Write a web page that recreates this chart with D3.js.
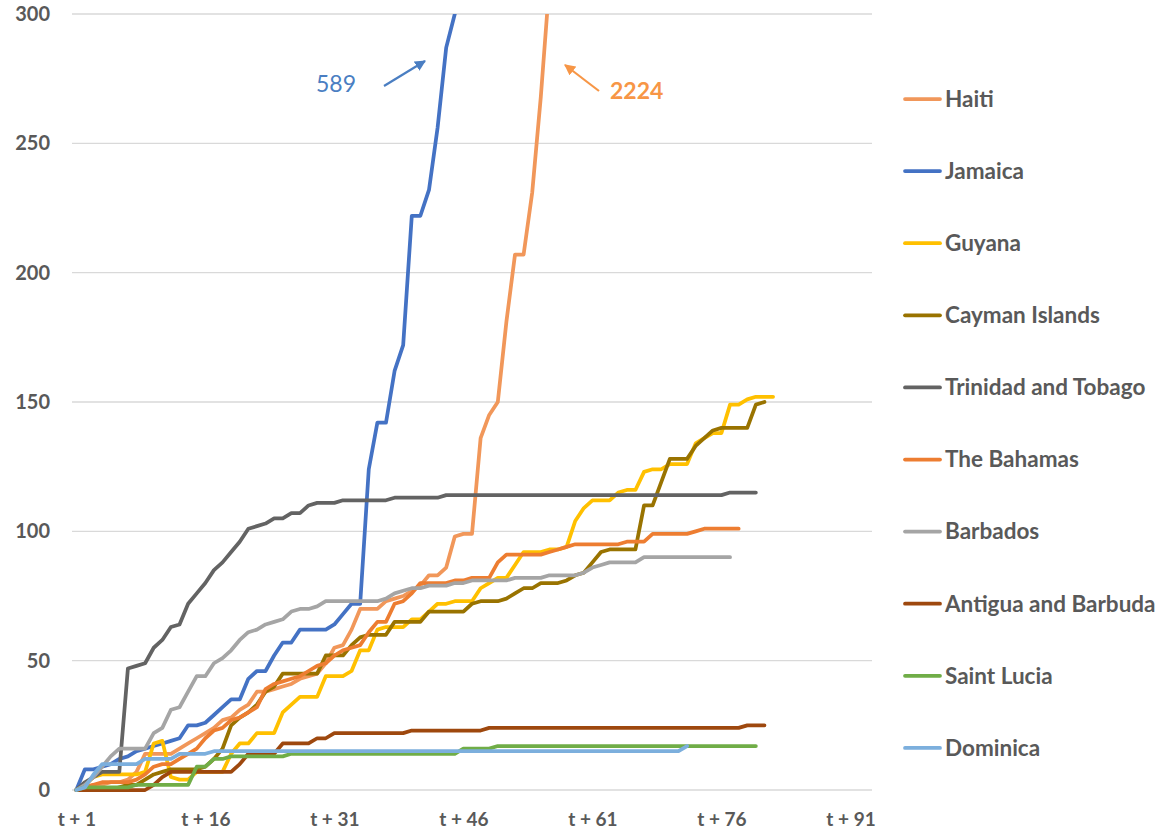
<!DOCTYPE html>
<html>
<head>
<meta charset="utf-8">
<script src="https://cdn.jsdelivr.net/npm/d3@7"></script>
<style>
  html, body { margin: 0; padding: 0; background: #ffffff; }
  svg { display: block; }
  text { font-family: Lato, "Open Sans", "DejaVu Sans", sans-serif; }
</style>
</head>
<body>
<svg id="chart" width="1161" height="833"></svg>
<script>
// ---------------- DATA ----------------
const countries = ["Haiti", "Jamaica", "Guyana", "Cayman Islands", "Trinidad and Tobago",
  "The Bahamas", "Barbados", "Antigua and Barbuda", "Saint Lucia", "Dominica"];

const haiti = [0,1,2,2,3,3,4,7,14,14,14,14,16,18,20,22,24,27,28,31,33,38,38,39,40,41,43,44,45,49,
  55,56,62,70,70,70,73,74,75,77,79,83,83,86,98,99,99,136,145,150,181,207,207,231,268,312];
const jamaica = [0,8,8,9,10,12,13,15,16,17,18,19,20,25,25,26,29,32,35,35,43,46,46,52,57,57,62,62,62,62,
  64,68,72,72,124,142,142,162,172,222,222,232,256,287,300,335];
const guyana = [0,2,5,6,6,6,6,6,7,18,19,5,4,4,7,7,7,7,14,18,18,22,22,22,30,33,36,36,36,44,
  44,44,46,54,54,62,63,63,63,66,66,69,72,72,73,73,73,78,80,82,82,87,92,92,92,93,93,94,104,109,
  112,112,112,115,116,116,123,124,124,126,126,126,134,136,138,138,149,149,151,152,152,152];
const cayman = [0,0,0,0,0,1,2,2,4,6,7,8,8,8,8,9,12,16,25,28,30,33,38,40,45,45,45,45,45,52,
  52,52,56,59,60,60,60,65,65,65,65,69,69,69,69,69,72,73,73,73,74,76,78,78,80,80,80,81,83,84,
  88,92,93,93,93,93,110,110,119,128,128,128,133,136,139,140,140,140,140,149,150];
const trinidad = [0,3,5,7,7,7,47,48,49,55,58,63,64,72,76,80,85,88,92,96,101,102,103,105,105,107,107,110,111,111,
  111,112,112,112,112,112,112,113,113,113,113,113,113,114,114,114,114,114,114,114,114,114,114,114,114,114,114,114,114,114,
  114,114,114,114,114,114,114,114,114,114,114,114,114,114,114,114,115,115,115,115];
const bahamas = [0,1,2,3,3,3,3,4,6,9,10,10,12,14,16,20,23,24,27,28,30,32,39,41,42,43,44,46,48,49,
  52,54,55,56,61,65,65,72,73,76,80,80,80,80,81,81,82,82,82,88,91,91,91,91,91,92,93,94,95,95,
  95,95,95,95,96,96,96,99,99,99,99,99,100,101,101,101,101,101];
const barbados = [0,2,5,9,13,16,16,16,16,22,24,31,32,38,44,44,49,51,54,58,61,62,64,65,66,69,70,70,71,73,
  73,73,73,73,73,73,74,76,77,78,78,79,79,79,80,80,81,81,81,81,81,82,82,82,82,83,83,83,83,84,
  86,87,88,88,88,88,90,90,90,90,90,90,90,90,90,90,90];
const antigua = [0,0,0,0,0,0,0,0,0,2,5,7,7,7,7,7,7,7,7,10,14,14,14,14,18,18,18,18,20,20,
  22,22,22,22,22,22,22,22,22,23,23,23,23,23,23,23,23,23,24,24,24,24,24,24,24,24,24,24,24,24,
  24,24,24,24,24,24,24,24,24,24,24,24,24,24,24,24,24,24,25,25,25];
const saintLucia = [0,1,1,1,1,1,1,2,2,2,2,2,2,2,9,9,12,12,13,13,13,13,13,13,13,14,14,14,14,14,
  14,14,14,14,14,14,14,14,14,14,14,14,14,14,14,16,16,16,16,17,17,17,17,17,17,17,17,17,17,17,
  17,17,17,17,17,17,17,17,17,17,17,17,17,17,17,17,17,17,17,17];
const dominica = [0,1,6,10,10,10,10,10,12,12,12,12,14,14,14,14,15,15,15,15,15,15,15,15,15,15,15,15,15,15,
  15,15,15,15,15,15,15,15,15,15,15,15,15,15,15,15,15,15,15,15,15,15,15,15,15,15,15,15,15,15,
  15,15,15,15,15,15,15,15,15,15,15,17];

const seriesValues = [haiti, jamaica, guyana, cayman, trinidad, bahamas, barbados, antigua, saintLucia, dominica];
const seriesColors = ["#F1975A", "#4472C4", "#FFC000", "#997300", "#636363",
  "#ED7D31", "#A5A5A5", "#9E480E", "#70AD47", "#7CAFDD"];

const categoryCount = 93;                 // t + 1 ... t + 93
const xTickDays = [1, 16, 31, 46, 61, 76, 91];
const yTicks = [0, 50, 100, 150, 200, 250, 300];
const jamaicaTotal = 589;
const haitiTotal = 2224;

// ---------------- LAYOUT ----------------
const svg = d3.select("#chart");
const plot = { left: 72, right: 872, top: 14, bottom: 790 };

const x = d3.scaleLinear().domain([0.5, categoryCount + 0.5]).range([plot.left, plot.right]);
const y = d3.scaleLinear().domain([0, 300]).range([plot.bottom, plot.top]);

const textColor = "#595959";

// gridlines
svg.append("g")
  .selectAll("line")
  .data(yTicks)
  .join("line")
  .attr("x1", plot.left).attr("x2", plot.right)
  .attr("y1", d => y(d)).attr("y2", d => y(d))
  .attr("stroke", "#D9D9D9").attr("stroke-width", 1.3);

// y axis labels
const yAxis = d3.axisLeft(y).tickValues(yTicks).tickSize(0).tickPadding(0);
const gy = svg.append("g").attr("transform", `translate(${plot.left - 22},0)`).call(yAxis);
gy.select(".domain").remove();
gy.selectAll("text")
  .attr("fill", textColor).attr("font-size", "20px").attr("font-weight", "bold")
  .attr("font-family", "Lato, 'Open Sans', sans-serif");

// x axis labels
const xAxis = d3.axisBottom(x).tickValues(xTickDays).tickFormat(d => "t + " + d).tickSize(0).tickPadding(0);
const gx = svg.append("g").attr("transform", `translate(0,${plot.bottom + 22})`).call(xAxis);
gx.select(".domain").remove();
gx.selectAll("text")
  .attr("fill", textColor).attr("font-size", "19px").attr("font-weight", "bold")
  .attr("font-family", "Lato, 'Open Sans', sans-serif");

// clip
svg.append("defs").append("clipPath").attr("id", "plotClip")
  .append("rect")
  .attr("x", plot.left - 10).attr("y", plot.top)
  .attr("width", plot.right - plot.left + 20).attr("height", plot.bottom - plot.top + 10);

const line = d3.line()
  .x((d, i) => x(i + 1))
  .y(d => y(d));

const lines = svg.append("g").attr("clip-path", "url(#plotClip)");
seriesValues.forEach((vals, k) => {
  lines.append("path")
    .datum(vals)
    .attr("d", line)
    .attr("fill", "none")
    .attr("stroke", seriesColors[k])
    .attr("stroke-width", 3.75)
    .attr("stroke-linejoin", "round")
    .attr("stroke-linecap", "round");
});

// legend
const legend = svg.append("g");
countries.forEach((name, i) => {
  const ly = 99 + i * 72.1;
  legend.append("line")
    .attr("x1", 905).attr("x2", 940).attr("y1", ly).attr("y2", ly)
    .attr("stroke", seriesColors[i]).attr("stroke-width", 3.75).attr("stroke-linecap", "round");
  legend.append("text")
    .attr("x", 945).attr("y", ly).attr("dy", "0.35em")
    .attr("fill", textColor).attr("font-size", "22.5px").attr("font-weight", "bold")
    .text(name);
});

// annotations
const defs = svg.select("defs");
function marker(id, color) {
  defs.append("marker").attr("id", id)
    .attr("viewBox", "0 0 10 10").attr("refX", 9).attr("refY", 5)
    .attr("markerWidth", 5).attr("markerHeight", 5).attr("orient", "auto")
    .append("path").attr("d", "M0,0 L10,5 L0,10 Z").attr("fill", color);
}
marker("arrBlue", "#4A7EC2");
marker("arrOrange", "#F79646");

svg.append("text").attr("x", 316).attr("y", 84).attr("dy", "0.35em")
  .attr("fill", "#4A7EC2").attr("font-size", "23px").text(jamaicaTotal);
svg.append("line").attr("x1", 384).attr("y1", 86).attr("x2", 425).attr("y2", 61)
  .attr("stroke", "#4A7EC2").attr("stroke-width", 2.2).attr("marker-end", "url(#arrBlue)");

svg.append("text").attr("x", 610).attr("y", 91).attr("dy", "0.35em")
  .attr("fill", "#F79646").attr("font-size", "23px").attr("font-weight", "bold").text(haitiTotal);
svg.append("line").attr("x1", 599).attr("y1", 91).attr("x2", 565).attr("y2", 65)
  .attr("stroke", "#F79646").attr("stroke-width", 2.2).attr("marker-end", "url(#arrOrange)");
</script>
</body>
</html>
